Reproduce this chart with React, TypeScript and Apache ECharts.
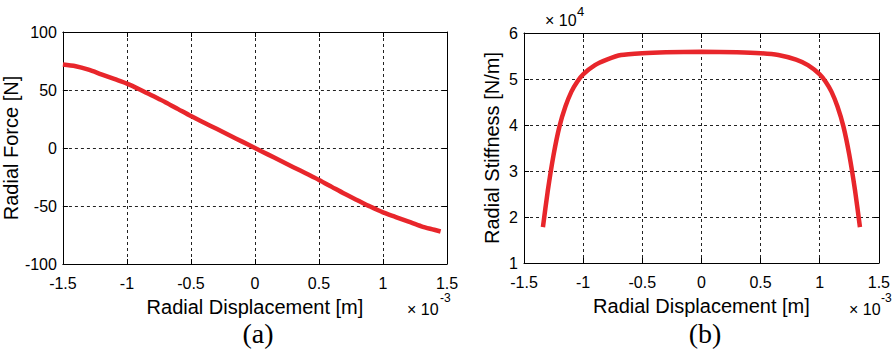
import React, { useEffect, useRef } from "react";
import * as echarts from "echarts";

// Radial displacement in units of 1e-3 m
const forceX = [-1.5, -1.4, -1.3, -1.2, -1.1, -1.0, -0.9, -0.8, -0.7, -0.6, -0.5, -0.4, -0.3, -0.2, -0.1, 0, 0.1, 0.2, 0.3, 0.4, 0.5, 0.6, 0.7, 0.8, 0.9, 1.0, 1.1, 1.2, 1.3, 1.4, 1.45];
const forceY = [72, 70.5, 67.5, 63.5, 59.5, 55.5, 50.5, 45, 39.5, 33.5, 27.5, 22, 16.5, 11, 5.5, 0, -5.5, -11, -16.5, -22, -27.5, -33.5, -39.5, -45, -50.5, -55.5, -59.5, -63.5, -67.5, -70.5, -72];

// Radial stiffness in units of 1e4 N/m
const stiffX = [-1.34, -1.3, -1.25, -1.2, -1.15, -1.1, -1.05, -1.0, -0.9, -0.8, -0.68, -0.5, -0.3, 0, 0.3, 0.5, 0.65, 0.8, 0.9, 1.0, 1.05, 1.1, 1.15, 1.2, 1.25, 1.3, 1.34];
const stiffY = [1.78, 2.55, 3.35, 3.97, 4.4, 4.72, 4.94, 5.1, 5.3, 5.42, 5.52, 5.56, 5.58, 5.59, 5.58, 5.56, 5.52, 5.42, 5.3, 5.1, 4.94, 4.72, 4.4, 3.97, 3.35, 2.55, 1.78];

const xTicks = { min: -1.5, max: 1.5, interval: 0.5 };
const forceTicks = { min: -100, max: 100, interval: 50 };
const stiffTicks = { min: 1, max: 6, interval: 1 };

const SANS = "'Liberation Sans', Arial, Helvetica, sans-serif";
const SERIF = "'Liberation Serif', 'Times New Roman', serif";
const RED = "#e8262b";

export default function App() {
  const ref = useRef<HTMLDivElement>(null);

  useEffect(() => {
    document.body.style.margin = "0";
    if (!ref.current) return;
    const chart = echarts.init(ref.current, null, { renderer: "svg" });

    const grid = [
      { left: 61, top: 32, width: 386, height: 232 },
      { left: 524, top: 33, width: 362, height: 230 },
    ];

    const splitLine = { show: true, lineStyle: { color: "#222", type: [3, 3] as any, width: 1 } };
    const axisLine = { show: true, onZero: false, lineStyle: { color: "#000", width: 1 } };
    const tickIn = { show: true, inside: true, length: 5, lineStyle: { color: "#000" } };
    const labelStyle = { color: "#000", fontSize: 16, fontFamily: SANS };

    const mkX = (gi: number, pos: "bottom" | "top", main: boolean, name?: string) => ({
      type: "value",
      gridIndex: gi,
      position: pos,
      ...xTicks,
      axisLine,
      axisTick: tickIn,
      axisLabel: main ? { ...labelStyle, margin: 11 } : { show: false },
      splitLine: main ? splitLine : { show: false },
      name: main ? name : undefined,
      nameLocation: "middle",
      nameGap: 33,
      nameTextStyle: { color: "#000", fontSize: 20, fontFamily: SANS },
    });

    const mkY = (gi: number, pos: "left" | "right", main: boolean, ticks: any, name?: string, gap = 30) => ({
      type: "value",
      gridIndex: gi,
      position: pos,
      ...ticks,
      axisLine,
      axisTick: tickIn,
      axisLabel: main ? { ...labelStyle, margin: 6 } : { show: false },
      splitLine: main ? splitLine : { show: false },
      name: main ? name : undefined,
      nameLocation: "middle",
      nameGap: gap,
      nameTextStyle: { color: "#000", fontSize: 20, fontFamily: SANS },
    });

    const txt = (x: number, y: number, text: string, size: number, family = SANS, align = "left") => ({
      type: "text",
      x,
      y,
      style: {
        text,
        fill: "#000",
        fontSize: size,
        fontFamily: family,
        align,
        verticalAlign: "middle",
      },
    });

    chart.setOption({
      animation: false,
      backgroundColor: "#fff",
      grid,
      xAxis: [
        mkX(0, "bottom", true, "Radial Displacement [m]"),
        mkX(0, "top", false),
        mkX(1, "bottom", true, "Radial Displacement [m]"),
        mkX(1, "top", false),
      ],
      yAxis: [
        mkY(0, "left", true, forceTicks, "Radial Force [N]", 35),
        mkY(0, "right", false, forceTicks),
        mkY(1, "left", true, stiffTicks, "Radial Stiffness [N/m]", 22),
        mkY(1, "right", false, stiffTicks),
      ],
      series: [
        {
          type: "line",
          xAxisIndex: 0,
          yAxisIndex: 0,
          data: forceX.map((x, i) => [x, forceY[i]]),
          smooth: 0.3,
          showSymbol: false,
          lineStyle: { color: RED, width: 4.5 },
        },
        {
          type: "line",
          xAxisIndex: 2,
          yAxisIndex: 2,
          data: stiffX.map((x, i) => [x, stiffY[i]]),
          smooth: 0.2,
          showSymbol: false,
          lineStyle: { color: RED, width: 4.5 },
        },
      ],
      graphic: [
        txt(407, 309, "× 10", 16),
        txt(440, 298, "-3", 12),
        txt(849, 309, "× 10", 16),
        txt(881, 298, "-3", 12),
        txt(545, 20, "× 10", 16),
        txt(577, 11, "4", 13),
        txt(258, 333, "(a)", 28, SERIF, "center"),
        txt(705, 333, "(b)", 28, SERIF, "center"),
      ],
    });

    return () => chart.dispose();
  }, []);

  return (
    <div
      ref={ref}
      style={{ position: "absolute", left: 0, top: 0, width: 893, height: 349, background: "#fff" }}
    />
  );
}
